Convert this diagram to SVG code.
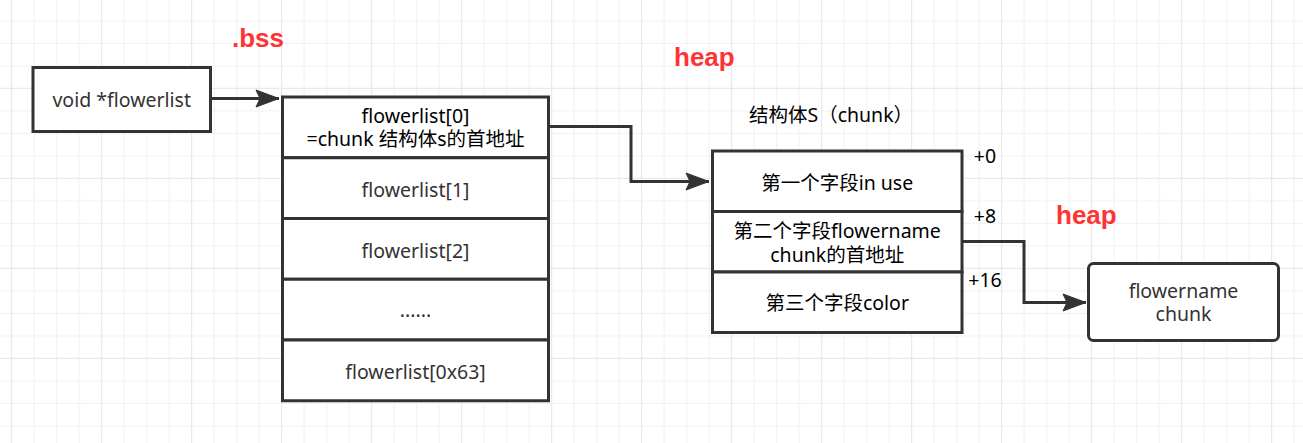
<svg xmlns="http://www.w3.org/2000/svg" width="1303" height="443" viewBox="0 0 1303 443">
<style>
.box{fill:#ffffff;stroke:#333333;stroke-width:3}
.conn{fill:none;stroke:#333333;stroke-width:3}
.t{font-family:"Noto Sans","Noto Sans CJK SC",sans-serif;font-size:19.5px;text-anchor:middle;fill:#000000}
.g{fill:#333333}
.lbl{font-family:"Noto Sans","Noto Sans CJK SC",sans-serif;font-size:19.5px;fill:#000000}
.red{font-family:"Liberation Sans","Noto Sans CJK SC",sans-serif;font-size:26px;font-weight:bold;fill:#FF3333}
</style>
<defs>
<pattern id="grid" patternUnits="userSpaceOnUse" x="11.2" y="-2.2" width="90" height="90">
<path d="M23,0V90M45.5,0V90M68,0V90M0,23H90M0,45.5H90M0,68H90" stroke="#f0f0f0" stroke-width="1" fill="none"/>
<path d="M0.5,0V90M0,0.5H90" stroke="#e4e4e4" stroke-width="1" fill="none"/>
</pattern>
<marker id="arr" markerUnits="userSpaceOnUse" markerWidth="26" markerHeight="20" viewBox="-24 -10 26 20" refX="0" refY="0" orient="auto">
<path d="M0,0L-23,-8.5L-19,0L-23,8.5Z" fill="#333333" stroke="#333333" stroke-width="1"/>
</marker>
</defs>
<rect width="1303" height="443" fill="#ffffff"/>
<rect width="1303" height="443" fill="url(#grid)"/>

<g id="label-bss"><text class="red" x="232" y="47">.bss</text></g>
<g id="label-heap1"><text class="red" x="674" y="66">heap</text></g>
<g id="label-heap2"><text class="red" x="1056" y="224">heap</text></g>
<g id="label-struct"><text class="lbl" x="831" y="122" text-anchor="middle">结构体S（chunk）</text></g>
<g id="label-offsets">
<text class="lbl" x="985" y="163" text-anchor="middle">+0</text>
<text class="lbl" x="985" y="223" text-anchor="middle">+8</text>
<text class="lbl" x="985" y="287" text-anchor="middle">+16</text>
</g>

<g id="connectors">
<path class="conn" d="M212,98.5H279" marker-end="url(#arr)"/>
<path class="conn" d="M549,126.5H631V181.5H709" marker-end="url(#arr)"/>
<path class="conn" d="M962,241.5H1024V302.5H1086" marker-end="url(#arr)"/>
</g>

<g id="node-void">
<rect class="box" x="33" y="67.5" width="177.5" height="64"/>
<text class="t g" x="121.7" y="107">void *flowerlist</text>
</g>

<g id="node-flowerlist">
<g id="fl0">
<rect class="box" x="282.5" y="97" width="266" height="60.75"/>
<text class="t" x="415.5" y="123.3"><tspan x="415.5">flowerlist[0]</tspan><tspan x="415.5" dy="22.7">=chunk 结构体s的首地址</tspan></text>
</g>
<g id="fl1">
<rect class="box" x="282.5" y="157.75" width="266" height="60.75"/>
<text class="t g" x="415.5" y="197">flowerlist[1]</text>
</g>
<g id="fl2">
<rect class="box" x="282.5" y="218.5" width="266" height="60.75"/>
<text class="t g" x="415.5" y="257.5">flowerlist[2]</text>
</g>
<g id="fl-dots">
<rect class="box" x="282.5" y="279.25" width="266" height="60.75"/>
<text class="t g" x="415.5" y="317">......</text>
</g>
<g id="fl63">
<rect class="box" x="282.5" y="340" width="266" height="60.75"/>
<text class="t g" x="415.5" y="379">flowerlist[0x63]</text>
</g>
</g>

<g id="node-struct">
<g id="field0">
<rect class="box" x="712.5" y="151" width="249.5" height="60.5"/>
<text class="t" x="837.2" y="189.5">第一个字段in use</text>
</g>
<g id="field1">
<rect class="box" x="712.5" y="211.5" width="249.5" height="60.5"/>
<text class="t" x="837.2" y="237.5"><tspan x="837.2">第二个字段flowername</tspan><tspan x="837.2" dy="24">chunk的首地址</tspan></text>
</g>
<g id="field2">
<rect class="box" x="712.5" y="272" width="249.5" height="60.5"/>
<text class="t" x="837.2" y="309.5">第三个字段color</text>
</g>
</g>

<g id="node-flowername">
<rect class="box" x="1088.5" y="263.5" width="190" height="77" rx="5" ry="5"/>
<text class="t g" x="1183.5" y="298"><tspan x="1183.5">flowername</tspan><tspan x="1183.5" dy="23">chunk</tspan></text>
</g>
</svg>
